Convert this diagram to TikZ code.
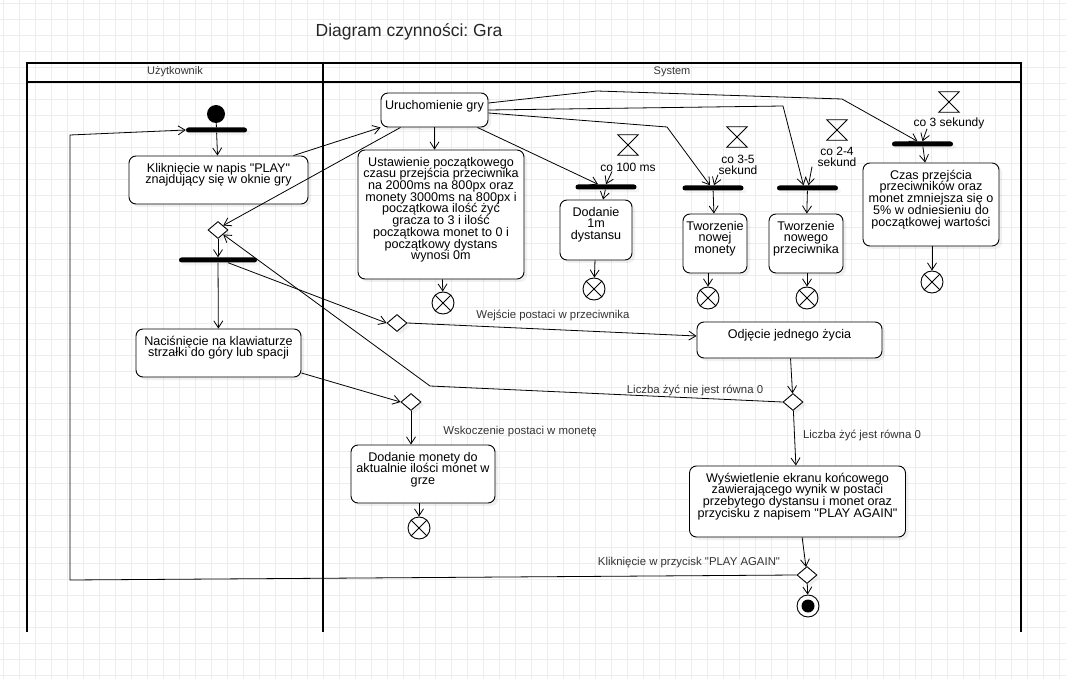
\documentclass[tikz,border=0pt]{standalone}
\usepackage{fontspec}
\defaultfontfeatures[\rmfamily]{}
\setmainfont{Liberation Sans}
\usetikzlibrary{arrows.meta,shapes.geometric,shadows}
\newcommand{\acttext}[3]{\parbox[c][#2][t]{#1}{\lineskiplimit=-10pt\centering\vspace*{7pt}#3}}

\begin{document}
\frenchspacing
\begin{tikzpicture}[x=1pt,y=-1pt,% pixel units, y pointing down
        actbox/.style={draw, rounded corners=7pt, fill=white, inner sep=0pt, line width=0.9pt,
            font=\fontsize{12.6}{11.7}\selectfont,
            drop shadow={shadow xshift=3pt,shadow yshift=-3pt,opacity=0.12}},
        forkbar/.style={fill=black, minimum height=5pt, inner sep=0pt, rounded corners=2.5pt,
            drop shadow={shadow xshift=3pt,shadow yshift=-3pt,opacity=0.08}},
        decision/.style={diamond, draw, fill=white, minimum width=20pt, minimum height=17pt, inner sep=0pt, line width=0.9pt,
            drop shadow={shadow xshift=3pt,shadow yshift=-3pt,opacity=0.12}},
        flowend/.style={circle, draw, fill=white, minimum size=22pt, inner sep=0pt, line width=0.9pt},
        hourglass/.style={minimum size=20pt, inner sep=0pt},
        timelbl/.style={font=\fontsize{12}{10.5}\selectfont, align=center, inner sep=0pt},
        edgelbl/.style={font=\fontsize{11.4}{12}\selectfont, text=black!80, inner sep=0pt},
        lanelbl/.style={font=\fontsize{11}{12}\selectfont, text=black!80},
        flow/.style={-{Straight Barb[length=7pt,width=9pt]}, line width=0.8pt},
        lane/.style={line width=2pt},
        gridline/.style={black!7, line width=0.8pt}]
\useasboundingbox (0,0) rectangle (1066,679);

% background grid
\foreach \gx in {3.3,19.3,...,1066} \draw[gridline] (\gx,0) -- (\gx,679);
\foreach \gy in {3.3,19.3,...,679} \draw[gridline] (0,\gy) -- (1066,\gy);

\node[font=\fontsize{17.5}{20}\selectfont, text=black!85] (title) at (409,32) {Diagram czynności: Gra};

% swimlanes
\draw[lane] (27,632) -- (27,63) -- (1021,63) -- (1021,632);
\draw[lane] (27,82) -- (1021,82);
\draw[lane] (323,63) -- (323,632);
\node[lanelbl] (userlane) at (175,72) {Użytkownik};
\node[lanelbl] (syslane) at (672,72) {System};

% Uzytkownik lane
\node[circle, fill=black, minimum size=18pt, inner sep=0pt] (start) at (216,114) {};
\node[forkbar, minimum width=61pt] (bar1) at (216.5,130) {};
\node[actbox] (klik) at (218.5,180) {\acttext{179pt}{48pt}{Kliknięcie w napis "PLAY"\\znajdujący się w oknie gry}};
\node[decision] (d1) at (218,230) {};
\node[forkbar, minimum width=78pt] (bar2) at (218,260) {};
\node[actbox] (nacis) at (218.5,353) {\acttext{165pt}{48pt}{Naciśnięcie na klawiaturze\\strzałki do góry lub spacji}};

% System lane
\node[actbox] (ur) at (434.5,110) {\acttext{107pt}{34pt}{Uruchomienie gry}};
\node[actbox] (ust) at (441,214.5) {\acttext{166pt}{129pt}{Ustawienie początkowego\\czasu przejścia przeciwnika\\na 2000ms na 800px oraz\\monety 3000ms na 800px i\\początkowa ilość żyć\\gracza to 3 i ilość\\początkowa monet to 0 i\\początkowy dystans\\wynosi 0m}};
\node[flowend] (e1) at (443,303) {};

\node[hourglass] (hg1) at (628,145) {};
\node[timelbl] (t1) at (628,167) {co 100 ms};
\node[forkbar, minimum width=61pt] (bar3) at (606,187) {};
\node[actbox] (dod1) at (596,230) {\acttext{72pt}{60pt}{Dodanie\\1m\\dystansu}};
\node[flowend] (e2) at (594,289) {};

\node[hourglass] (hg2) at (737,137) {};
\node[timelbl] (t2) at (738,165) {co 3-5\\sekund};
\node[forkbar, minimum width=61pt] (bar4) at (713,188) {};
\node[actbox] (mon) at (715,243.5) {\acttext{64pt}{59pt}{Tworzenie\\nowej\\monety}};
\node[flowend] (e3) at (708,298) {};

\node[hourglass] (hg3) at (837,130) {};
\node[timelbl] (t3) at (837,157) {co 2-4\\sekund};
\node[forkbar, minimum width=61pt] (bar5) at (807.5,188) {};
\node[actbox] (prz) at (806,243.5) {\acttext{74pt}{59pt}{Tworzenie\\nowego\\przeciwnika}};
\node[flowend] (e4) at (807,298) {};

\node[hourglass] (hg4) at (949,102) {};
\node[timelbl] (t4) at (949,123) {co 3 sekundy};
\node[forkbar, minimum width=61pt] (bar6) at (922.5,144) {};
\node[actbox] (czas) at (931,204.5) {\acttext{136pt}{83pt}{Czas przejścia\\przeciwników oraz\\monet zmniejsza się o\\5\% w odniesieniu do\\początkowej wartości}};
\node[flowend] (e5) at (932,282) {};

\node[decision] (d2) at (397,323) {};
\node[actbox] (odj) at (789.5,340) {\acttext{185pt}{36pt}{Odjęcie jednego życia}};
\node[decision] (d3) at (793,402) {};
\node[decision] (d4) at (411,402) {};
\node[actbox] (dodm) at (423,474) {\acttext{144pt}{58pt}{Dodanie monety do\\aktualnie ilości monet w\\grze}};
\node[flowend] (e6) at (419,528) {};
\node[actbox] (wys) at (797.5,501.5) {\acttext{216pt}{71pt}{Wyświetlenie ekranu końcowego\\zawierającego wynik w postaci\\przebytego dystansu i monet oraz\\przycisku z napisem "PLAY AGAIN"}};
\node[decision] (d5) at (807,575) {};
\node[flowend] (fin) at (808,606) {};
\fill (fin) circle (6.5pt);

\foreach \hg in {hg1,hg2,hg3,hg4} %timer symbols
  \draw[line width=0.8pt] (\hg.north west) -- (\hg.north east) -- (\hg.south west) -- (\hg.south east) -- cycle;
\foreach \ef in {e1,e2,e3,e4,e5,e6} %flow final crosses
  \draw[line width=0.8pt] (\ef.north west) -- (\ef.south east) (\ef.north east) -- (\ef.south west);

% edge labels
\node[edgelbl] (lwej) at (553,315) {Wejście postaci w przeciwnika};
\node[edgelbl] (lnie) at (695,390) {Liczba żyć nie jest równa 0};
\node[edgelbl] (ljest) at (862,435) {Liczba żyć jest równa 0};
\node[edgelbl] (lwsk) at (520,432) {Wskoczenie postaci w monetę};
\node[edgelbl] (lplay) at (689,563) {Kliknięcie w przycisk "PLAY AGAIN"};

% connectors
\draw[line width=0.8pt] (start) -- (bar1);
\draw[flow] (bar1) -- (klik);
\draw[flow] ([xshift=-15pt]klik.north east) -- (ur.south west);
\draw[flow] ([xshift=20pt]ur.south west) -- (d1.north east);
\draw[flow] (ur.south) -- (ur.south |- ust.north);
\draw[flow] ([xshift=-11pt]ur.south east) -- ([xshift=-8pt]bar3.north);
\draw[flow] ([yshift=-3pt]ur.east) -- (667,127) -- ([xshift=-3pt]bar4.north);
\draw[flow] (ur.east) -- (783,106) -- ([xshift=-4pt]bar5.north);
\draw[flow] ([yshift=7pt]ur.east) -- (597,91) -- (842,99) -- ([xshift=-5pt]bar6.north);

\draw[flow] ([xshift=-16pt]t1.south) -- (bar3.north);
\draw[flow] ([xshift=-20pt]t2.south) -- ([xshift=1pt]bar4.north);
\draw[flow] ([xshift=-25pt]t3.south) -- ([xshift=1pt]bar5.north);
\draw[flow] ([xshift=-22pt]t4.south) -- (bar6.north);

\draw[flow] (bar3) -- (dod1);
\draw[flow] (bar4) -- (mon);
\draw[flow] (bar5) -- (prz);
\draw[flow] (bar6) -- (czas);
\draw[flow] (ust) -- (e1);
\draw[flow] (dod1) -- (e2);
\draw[flow] (mon.south -| e3) -- (e3);
\draw[flow] (prz.south -| e4) -- (e4);
\draw[flow] (czas.south -| e5) -- (e5);

\draw[flow] (d1) -- (bar2);
\draw[flow] (bar2) -- (nacis);
\draw[flow] ([xshift=10pt]bar2.south) -- (d2.west);
\draw[flow] ([yshift=-20pt]nacis.east) -- (d4.west);
\draw[flow] (d2.east) -- ([yshift=4pt]odj.west);
\draw[flow] (odj) -- (d3);
\draw[flow] (d3.west) -- (430,386) -- (d1.south east);
\draw[flow] (d3) -- (wys);
\draw[flow] (d4.south) -- (d4.south |- dodm.north);
\draw[flow] (dodm.south -| e6) -- (e6);
\draw[flow] (wys) -- (d5);
\draw[flow] (d5.west) -- (70,580) -- (70,135) -- (bar1.west);
\draw[flow] (d5) -- (fin);

\end{tikzpicture}
\end{document}
